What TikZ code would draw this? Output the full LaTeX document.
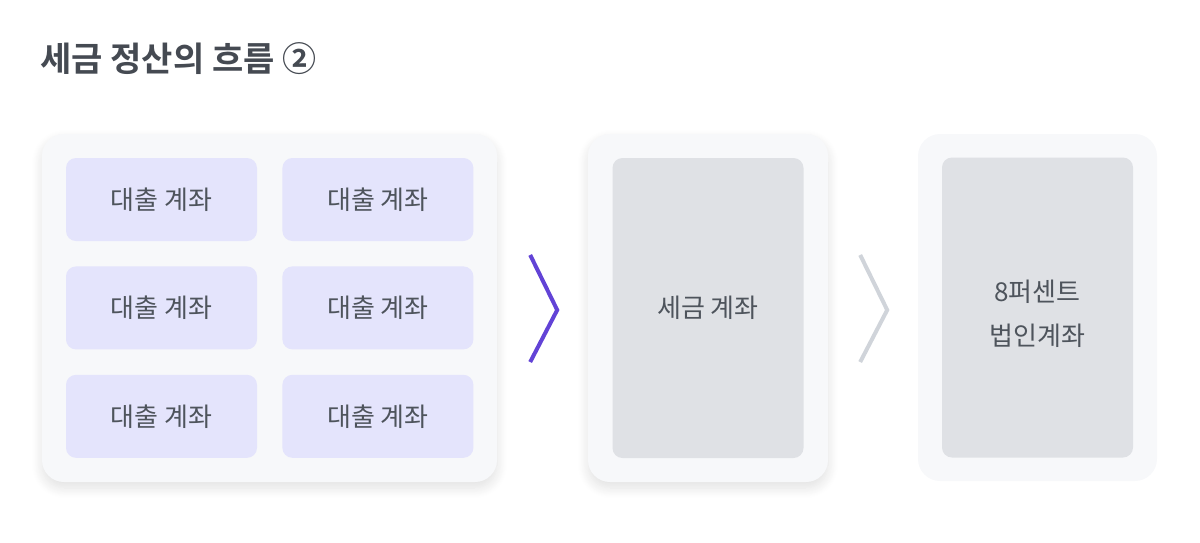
\documentclass[tikz,border=0pt]{standalone}
\usepackage{fontspec}
\setmainfont{Noto Sans CJK KR}[BoldFont={Noto Sans CJK KR Bold}]
\usepackage{tikz}
\usetikzlibrary{positioning, calc, shadows.blur}
\definecolor{taxtext}{HTML}{4E545C}
\definecolor{taxtitle}{HTML}{454A52}
\definecolor{taxpanel}{HTML}{F7F8FA}
\definecolor{taxcell}{HTML}{E4E4FC}
\definecolor{taxgray}{HTML}{DFE1E5}
\definecolor{taxpurple}{HTML}{6243D6}
\definecolor{taxchev}{HTML}{D0D4DA}

\begin{document}
\begin{tikzpicture}[
  x=1pt, y=-1pt,
  panel/.style={rectangle, rounded corners=22pt, fill=taxpanel, inner sep=0pt},
  shadowed/.style={blur shadow={shadow xshift=0pt, shadow yshift=-6pt, shadow blur steps=12, shadow blur radius=10pt, shadow opacity=12}},
  loan/.style={rectangle, rounded corners=10pt, fill=taxcell, minimum width=191pt, minimum height=83pt, inner sep=0pt,
    text=taxtext, font=\fontsize{26}{30}\selectfont},
  sink/.style={rectangle, rounded corners=10pt, fill=taxgray, minimum width=191pt, minimum height=300pt, inner sep=0pt,
    text=taxtext, align=center, font=\fontsize{26}{44}\selectfont},
  chev/.style={line width=4pt, line join=miter}
]
\useasboundingbox (0,0) rectangle (1200,542);

% title
\node[anchor=base west, inner sep=0pt, text=taxtitle, font=\fontsize{34}{38}\selectfont\bfseries] (title) at (40,71) {세금 정산의 흐름 ②};

% panels
\node[panel, shadowed, minimum width=455pt, minimum height=348pt] (loans) at (269.5,308) {};
\node[panel, shadowed, minimum width=240pt, minimum height=348pt] (taxbox) at (708,308) {};
\node[panel, minimum width=239pt, minimum height=347pt] (corpbox) at (1037.5,307.5) {};

% loan accounts
\node[loan] (loan11) at (161.5,199.5) {\raisebox{-2pt}{대출 계좌}};
\node[loan, right=25pt of loan11] (loan12) {\raisebox{-2pt}{대출 계좌}};
\node[loan, below=25pt of loan11] (loan21) {\raisebox{-2pt}{대출 계좌}};
\node[loan, right=25pt of loan21] (loan22) {\raisebox{-2pt}{대출 계좌}};
\node[loan, below=25pt of loan21] (loan31) {\raisebox{-2pt}{대출 계좌}};
\node[loan, right=25pt of loan31] (loan32) {\raisebox{-2pt}{대출 계좌}};

% destination accounts
\node[sink] (taxacct) at (taxbox.center) {\raisebox{-2pt}{세금 계좌}};
\node[sink] (corpacct) at (corpbox.center) {};
\node[text=taxtext, align=center, font=\fontsize{26}{44}\selectfont] (corptext) at ($(corpacct.center)+(0,6)$) {8퍼센트\\법인계좌};

% chevrons
\draw[chev, taxpurple] ($(loans.east)+(33,-53)$) -- ($(loans.east)+(60,2)$) -- ($(loans.east)+(33,54)$);
\draw[chev, taxchev] ($(taxbox.east)+(32,-53)$) -- ($(taxbox.east)+(59,2)$) -- ($(taxbox.east)+(32,54)$);
\end{tikzpicture}
\end{document}
